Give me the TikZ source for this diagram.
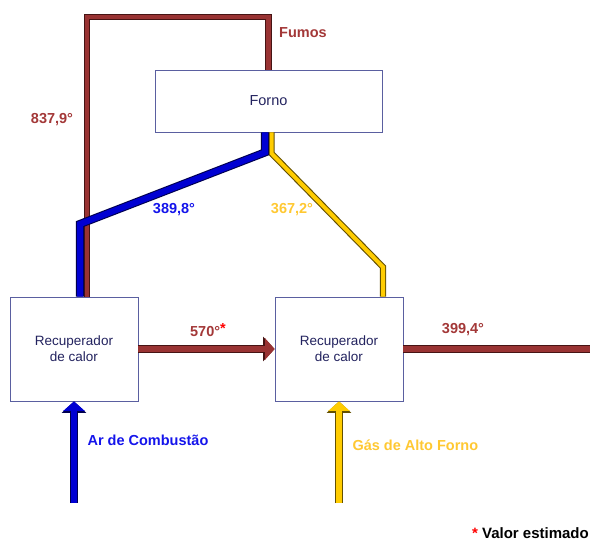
\documentclass[tikz,border=0pt]{standalone}
\usepackage{fontspec}
\setmainfont{Liberation Sans}
\usepackage{xcolor}
\usetikzlibrary{arrows.meta}
\definecolor{fumored}{RGB}{153,51,51}
\definecolor{fumodark}{RGB}{70,20,20}
\definecolor{arblue}{RGB}{0,0,210}
\definecolor{ardark}{RGB}{0,0,80}
\definecolor{gasyellow}{RGB}{255,204,0}
\definecolor{gasdark}{RGB}{100,80,0}
\definecolor{boxline}{RGB}{90,95,160}
\definecolor{boxtext}{RGB}{35,35,95}
\definecolor{fumolabel}{RGB}{163,56,56}
\definecolor{arlabel}{RGB}{20,20,235}
\definecolor{gaslabel}{RGB}{255,200,50}

\begin{document}
\begin{tikzpicture}[x=1pt, y=-1pt,
    box/.style={draw=boxline, fill=white, line width=0.8pt, align=center, text=boxtext, font=\fontsize{13.5}{16}\selectfont},
    pipe/.style n args={3}{draw=#2, line width=1.1pt, double=#1, double distance=#3, line join=miter},
    flow/.style 2 args={draw=#1, line width=5.5pt, -{Triangle[width=21pt,length=9.5pt]},
        preaction={draw=#2, line width=7.5pt, -{Triangle[width=24pt,length=11.5pt]}}},
    lbl/.style={font=\bfseries\fontsize{14.5}{16}\selectfont}]
    \useasboundingbox (0,0) rectangle (590,543);

    % Forno
    \node[box, minimum width=227pt, minimum height=62pt, font=\fontsize{14.5}{16}\selectfont] (forno) at (268.5,101) {Forno};

    % Recuperadores de calor
    \node[box, minimum width=128pt, minimum height=104pt] (recupA) at (74,349) {Recuperador\\de calor};
    \node[box, minimum width=128pt, minimum height=104pt] (recupB) at (339,349) {Recuperador\\de calor};

    % Bends and loose ends
    \coordinate (fumoCorner) at (87,17);
    \coordinate (arBend) at (80,224);
    \coordinate (gasBend) at (383,267);
    \coordinate (exitEnd) at (596,348);
    \coordinate (arIn) at (74,503);
    \coordinate (gasIn) at (339,503);

    % Pipes
    \draw[pipe={fumored}{fumodark}{4.5pt}] (forno.north) |- (fumoCorner) -- (fumoCorner |- recupA.north);
    \draw[pipe={gasyellow}{gasdark}{4pt}] ([xshift=3pt]forno.south) -- ++(0,21) -- (gasBend) -- (gasBend |- recupB.north);
    \draw[pipe={arblue}{ardark}{6pt}] ([xshift=-3.5pt]forno.south) -- ++(0,20) -- (arBend) -- (arBend |- recupA.north);

    % Flows
    \draw[flow={fumored}{fumodark}] (recupA.east) -- (recupB.west);
    \draw[pipe={fumored}{fumodark}{5.5pt}] (recupB.east) -- (recupB.east -| exitEnd);
    \draw[flow={arblue}{ardark}] (arIn) -- (recupA.south);
    \draw[flow={gasyellow}{gasdark}] (gasIn) -- (recupB.south);

    % Labels
    \node[lbl, text=fumolabel] (fumos) at (303,33) {Fumos};
    \node[lbl, text=fumolabel] (tFumos) at (52,120) {837,9°};
    \node[lbl, text=arlabel] (tAr) at (174,210) {389,8°};
    \node[lbl, text=gaslabel] (tGas) at (292,210) {367,2°};
    \node[lbl, text=fumolabel] (tMid) at (208,330) {570°\textcolor{red}{\raisebox{3pt}{*}}};
    \node[lbl, text=fumolabel] (tExit) at (463,330) {399,4°};
    \node[lbl, text=arlabel, anchor=west] (arName) at (84,440) {Ar de Combustão};
    \node[lbl, text=gaslabel, anchor=west] (gasName) at (349,445) {Gás de Alto Forno};
    \node[lbl, anchor=east, inner xsep=1pt, font=\bfseries\fontsize{15}{17}\selectfont] (nota) at (590,533) {\textcolor{red}{*} Valor estimado};
\end{tikzpicture}
\end{document}
